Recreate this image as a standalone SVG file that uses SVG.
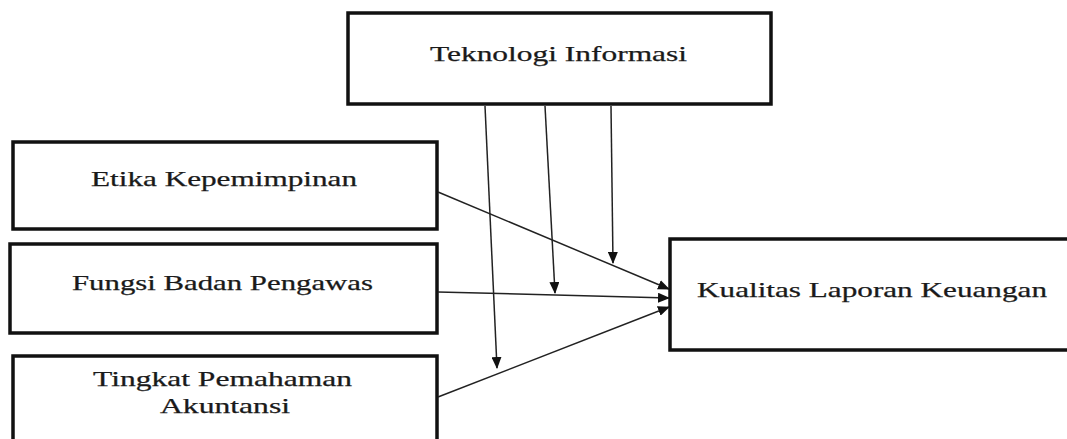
<svg xmlns="http://www.w3.org/2000/svg" width="1067" height="439" viewBox="0 0 1067 439">
  <style>
    .box { fill: #ffffff; stroke: #111111; stroke-width: 3.5; }
    .lbl { font-family: "Liberation Serif", "Times New Roman", serif; font-size: 21px; fill: #1a1a1a; stroke: #1a1a1a; stroke-width: 0.25; }
    .edge { stroke: #222222; stroke-width: 1.5; fill: none; marker-end: url(#arrow); }
  </style>
  <defs>
    <marker id="arrow" viewBox="0 0 12 10" refX="11" refY="5" markerWidth="12" markerHeight="10" markerUnits="userSpaceOnUse" orient="auto">
      <path d="M0,0 L12,5 L0,10 Z" fill="#111111"/>
    </marker>
  </defs>
  <rect width="1067" height="439" fill="#ffffff"/>

  <g id="node-teknologi">
    <rect class="box" x="348" y="13" width="423" height="91"/>
    <text class="lbl" x="430" y="61" textLength="257" lengthAdjust="spacingAndGlyphs">Teknologi Informasi</text>
  </g>

  <g id="node-etika">
    <rect class="box" x="13" y="142" width="424" height="87"/>
    <text class="lbl" x="91" y="186" textLength="266" lengthAdjust="spacingAndGlyphs">Etika Kepemimpinan</text>
  </g>

  <g id="node-fungsi">
    <rect class="box" x="10" y="244" width="427" height="89"/>
    <text class="lbl" x="72" y="290" textLength="301" lengthAdjust="spacingAndGlyphs">Fungsi Badan Pengawas</text>
  </g>

  <g id="node-tingkat">
    <rect class="box" x="13" y="356" width="424" height="100"/>
    <text class="lbl" x="93" y="386" textLength="259" lengthAdjust="spacingAndGlyphs">Tingkat Pemahaman</text>
    <text class="lbl" x="160" y="413" textLength="130" lengthAdjust="spacingAndGlyphs">Akuntansi</text>
  </g>

  <g id="node-kualitas">
    <rect class="box" x="670" y="239" width="410" height="111"/>
    <text class="lbl" x="697" y="297" textLength="350" lengthAdjust="spacingAndGlyphs">Kualitas Laporan Keuangan</text>
  </g>

  <g id="connectors">
    <line class="edge" x1="438" y1="192" x2="669" y2="289"/>
    <line class="edge" x1="438" y1="292" x2="669" y2="298"/>
    <line class="edge" x1="438" y1="397" x2="669" y2="307"/>
    <line class="edge" x1="485" y1="106" x2="497" y2="368"/>
    <line class="edge" x1="545" y1="106" x2="555" y2="293"/>
    <line class="edge" x1="611" y1="106" x2="613" y2="263"/>
  </g>
</svg>
